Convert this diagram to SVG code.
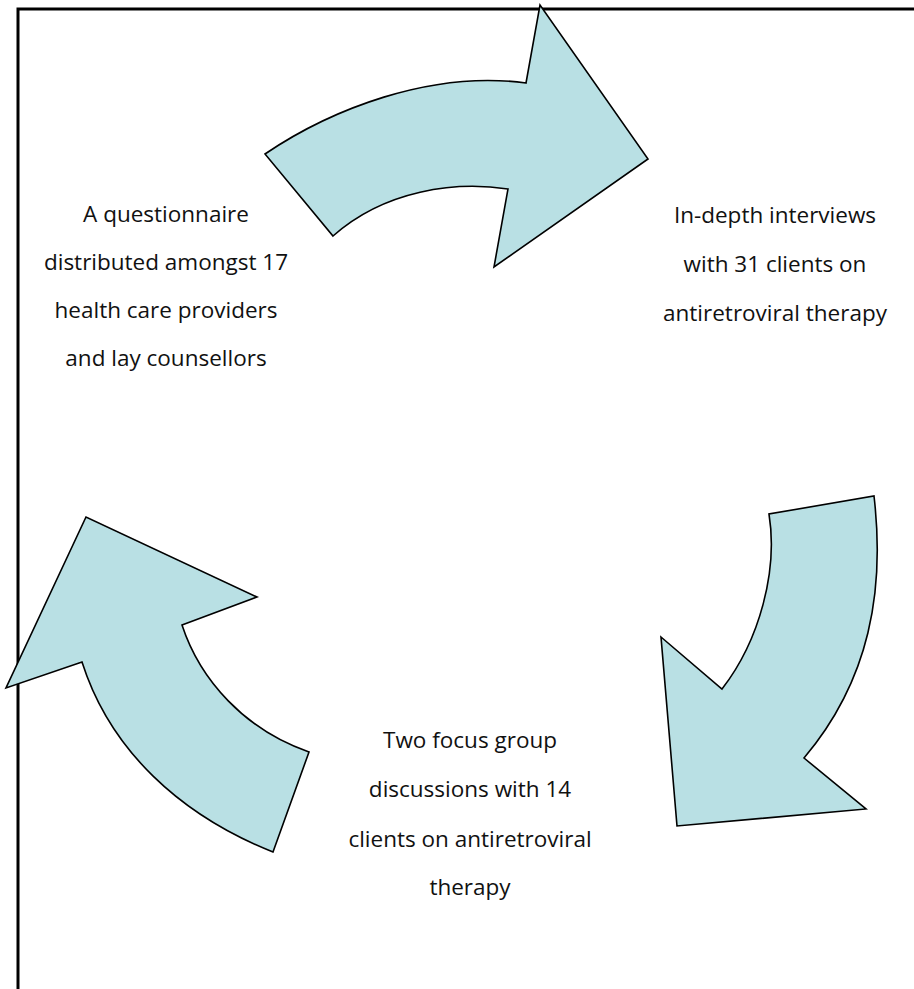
<svg xmlns="http://www.w3.org/2000/svg" width="914" height="989" viewBox="0 0 914 989">
<style>
.frame{fill:none;stroke:#000;stroke-width:3}
.arrow{fill:#B9E0E4;stroke:#000;stroke-width:1.6;stroke-linejoin:miter}
.lbl{font-family:"Open Sans","Liberation Sans",Arial,sans-serif;font-size:22.5px;fill:#111;text-anchor:middle}
</style>
<rect width="914" height="989" fill="#fff"/>
<rect class="frame" x="18" y="9" width="1000" height="1100"/>
<g id="connectors">
<path id="arrow-top" class="arrow" d="M265,154 C330,110 430,70 526,83 L540,5 L648,159 L494,267 L508,189 C455,181 385,190 333,236 Z"/>
<path id="arrow-right" class="arrow" d="M874,496 C885,590 870,680 804,758 L866,809 L677,826 L661,637 L722,689 C760,640 778,570 769,514 Z"/>
<path id="arrow-left" class="arrow" d="M273,852 C180,815 110,750 82,662 L6,688 L86,517 L257,597 L182,625 C200,680 245,730 309,752 Z"/>
</g>
<g id="node-questionnaire">
<text class="lbl" x="166" y="222">A questionnaire</text>
<text class="lbl" x="166" y="270">distributed amongst 17</text>
<text class="lbl" x="166" y="318">health care providers</text>
<text class="lbl" x="166" y="366">and lay counsellors</text>
</g>
<g id="node-interviews">
<text class="lbl" x="775" y="223">In-depth interviews</text>
<text class="lbl" x="775" y="272">with 31 clients on</text>
<text class="lbl" x="775" y="321">antiretroviral therapy</text>
</g>
<g id="node-focus">
<text class="lbl" x="470" y="748">Two focus group</text>
<text class="lbl" x="470" y="797">discussions with 14</text>
<text class="lbl" x="470" y="847">clients on antiretroviral</text>
<text class="lbl" x="470" y="895">therapy</text>
</g>
</svg>
